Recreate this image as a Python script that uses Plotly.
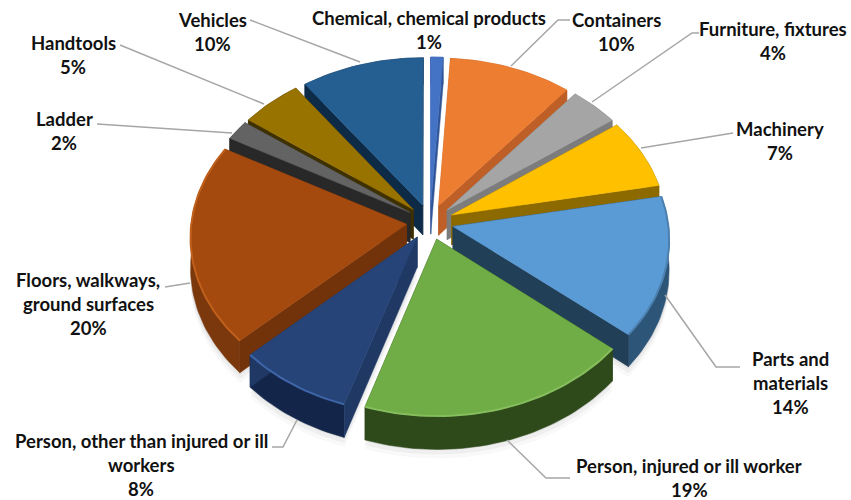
import math
import plotly.graph_objects as go

categories = ["Chemical, chemical products", "Containers", "Furniture, fixtures", "Machinery",
              "Parts and materials", "Person, injured or ill worker",
              "Person, other than injured or ill workers", "Floors, walkways, ground surfaces",
              "Ladder", "Handtools", "Vehicles"]
values = [1, 10, 4, 7, 14, 19, 8, 20, 2, 5, 10]
label_lines = [["Chemical, chemical products"], ["Containers"], ["Furniture, fixtures"], ["Machinery"],
               ["Parts and", "materials"], ["Person, injured or ill worker"],
               ["Person, other than injured or ill", "workers"], ["Floors, walkways,", "ground surfaces"],
               ["Ladder"], ["Handtools"], ["Vehicles"]]
top_colors = ["#4472C4", "#ED7D31", "#A5A5A5", "#FFC000", "#5B9BD5", "#70AD47",
              "#264478", "#A44A0F", "#636363", "#997300", "#255E91"]
cut_colors = ["#2F5597", "#BE5F27", "#7C7C7C", "#8C6A00", "#223F58", "#2E4A1A",
              "#1F3864", "#72330B", "#282828", "#3F3000", "#0D2A47"]
wall_colors = ["#2F5597", "#BE5F27", "#7C7C7C", "#8C6A00", "#2C5578", "#2E4A1A",
               "#13264A", "#7A380C", "#282828", "#3F3000", "#0D2A47"]
rim_colors = [None, None, None, None, "#4C80AE", "#86BE5E", "#3F66A8", "#C0601C", None, None, None]
label_x = [429, 616, 773, 780, 790, 689, 141, 88, 64, 73, 212]
label_y = [18, 20, 29, 129, 359, 466, 441, 280, 119, 43, 20]
leaders = [None,
           [(511, 66), (558, 20), (570, 20)],
           [(592, 102), (692, 33), (699, 33)],
           [(641, 148), (733, 133)],
           [(665, 295), (716, 367), (740, 367)],
           [(507, 440), (546, 478), (570, 478)],
           [(297, 420), (283, 447), (272, 447)],
           [(190, 283), (165, 287)],
           [(232, 133), (97, 124)],
           [(264, 104), (120, 45)],
           [(360, 62), (250, 20)]]

CX, CY, RX, RY, PERSP, PULL = 430, 222, 215, 161, 0.075, 0.11
DEPTH = 30


def project(u, v):
    d = 1 + PERSP * v
    return CX + RX * u / d, CY - RY * v / d


def slice_points(start, end):
    """Ground-plane outline of a slice from cumulative fractions."""
    a0, a1 = start * 2 * math.pi, end * 2 * math.pi
    mid = (a0 + a1) / 2
    ox, oy = PULL * math.sin(mid), PULL * math.cos(mid)
    n = max(4, int((end - start) * 240))
    arc = [(ox + math.sin(a0 + (a1 - a0) * i / n), oy + math.cos(a0 + (a1 - a0) * i / n)) for i in range(n + 1)]
    return (ox, oy), arc


def drop(p, v):
    return p[0], p[1] + DEPTH * (1 - 0.1 * v)


fig = go.Figure()


def add_poly(pts, color, name):
    fig.add_trace(go.Scatter(x=[p[0] for p in pts] + [pts[0][0]], y=[p[1] for p in pts] + [pts[0][1]],
                             mode="lines", fill="toself", fillcolor=color,
                             line=dict(color=color, width=0.5), hoverinfo="text", text=name,
                             showlegend=False))


total = sum(values)
cum = 0
slices = []
for i, val in enumerate(values):
    apex, arc = slice_points(cum / total, (cum + val) / total)
    slices.append((i, apex, arc))
    cum += val

# soft drop shadow under the front of the pie
for k, alpha in ((12, 0.04), (8, 0.06), (4, 0.08)):
    for i, apex, arc in slices:
        if apex[1] < 0:
            pts = [project(*apex)] + [project(*q) for q in arc]
            pts = [(p[0], p[1] + DEPTH + k) for p in pts]
            add_poly(pts, f"rgba(90,90,90,{alpha})", categories[i])

# painter's order: back slices first
for i, apex, arc in sorted(slices, key=lambda s: -s[1][1]):
    top_apex = project(*apex)
    top_arc = [project(*q) for q in arc]
    low_apex = drop(top_apex, apex[1])
    low_arc = [drop(p, q[1]) for p, q in zip(top_arc, arc)]
    add_poly(top_arc + low_arc[::-1], wall_colors[i], categories[i])
    add_poly([top_apex, top_arc[0], low_arc[0], low_apex], cut_colors[i], categories[i])
    add_poly([top_apex, top_arc[-1], low_arc[-1], low_apex], cut_colors[i], categories[i])
    add_poly([top_apex] + top_arc, top_colors[i], f"{categories[i]}: {values[i]}%")
    if rim_colors[i]:
        fig.add_trace(go.Scatter(x=[p[0] for p in top_arc], y=[p[1] for p in top_arc], mode="lines",
                                 line=dict(color=rim_colors[i], width=2), hoverinfo="skip", showlegend=False))

for path in leaders:
    if path:
        fig.add_trace(go.Scatter(x=[p[0] for p in path], y=[p[1] for p in path], mode="lines",
                                 line=dict(color="#A6A6A6", width=1.5), hoverinfo="skip", showlegend=False))

LINE = 24
for lines, val, lx, ly in zip(label_lines, values, label_x, label_y):
    for j, text in enumerate(lines + [f"{val}%"]):
        fig.add_annotation(x=lx, y=ly + j * LINE, text=text, showarrow=False, xanchor="center", yanchor="middle",
                           font=dict(family="Lato", size=18.5, color="#111111", weight="bold"))

fig.update_xaxes(range=[0, 851], visible=False)
fig.update_yaxes(range=[500, 0], visible=False)
fig.update_layout(width=851, height=500, margin=dict(l=0, r=0, t=0, b=0), paper_bgcolor="white",
                  plot_bgcolor="white", showlegend=False, hovermode="closest")
fig.write_html("out.html", config={"displayModeBar": False},
               post_script="document.body.style.margin='0';document.documentElement.style.overflow='hidden';")
